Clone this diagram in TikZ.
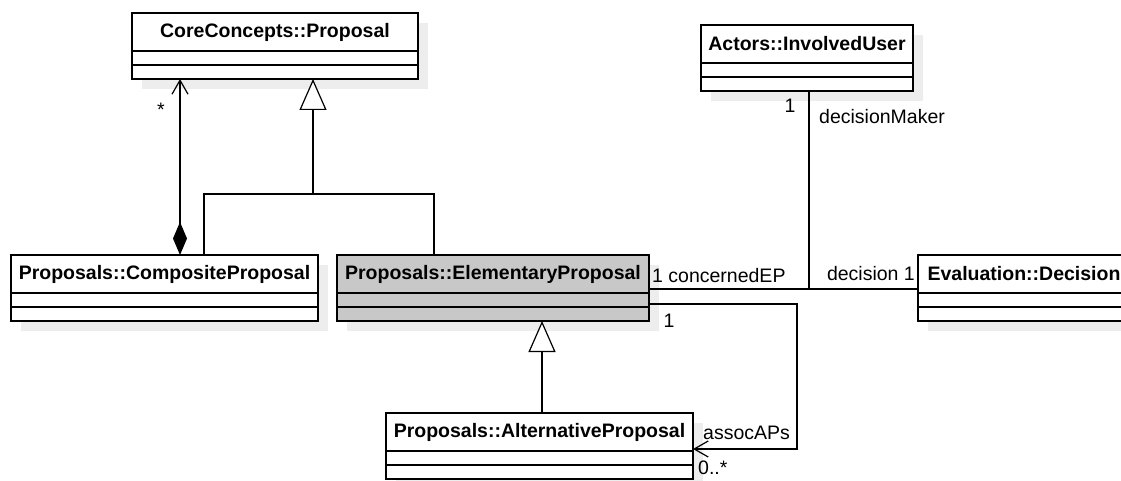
\documentclass[tikz,border=0pt]{standalone}
\usepackage{fontspec}
\setmainfont{Liberation Sans}
\usetikzlibrary{arrows.meta}
\definecolor{shadowc}{HTML}{EDEDED}
\definecolor{elemfill}{HTML}{C8C8C8}
\tikzset{
  clsbox/.style={draw=black, line width=1.5pt, inner sep=0pt, outer sep=0pt, anchor=north west},
  sepline/.style={draw=black, line width=1.5pt},
  hdr/.style={inner sep=0pt, font=\fontsize{19.5}{22}\selectfont\bfseries},
  lbl/.style={inner sep=0pt, font=\fontsize{19.5}{22}\selectfont},
  conn/.style={draw=black, line width=1.2pt},
  opentip/.style={-{Straight Barb[length=14pt,width=16pt,line width=1.2pt]}},
  gentip/.style={-{Triangle[open,length=31pt,width=27pt,fill=white,line width=1.2pt]}},
  comptip/.style={{Diamond[length=33pt,width=14pt]}-{Straight Barb[length=14pt,width=16pt,line width=1.2pt]}}
}
% #1 name, #2 x1, #3 y1, #4 x2, #5 fill, #6 text
\newcommand{\umlcls}[6]{%
  \fill[shadowc] (#2+10,#3+10) rectangle (#4+10,#3+76);
  \node[clsbox, fill=#5, minimum width={(#4-#2)*1pt}, minimum height=66pt] (#1) at (#2,#3) {};
  \draw[sepline] (#2,#3+38) -- (#4,#3+38);
  \draw[sepline] (#2,#3+52) -- (#4,#3+52);
  \node[hdr] (#1-t) at ({(#2+#4)/2},#3+19) {#6};
}
\begin{document}
\begin{tikzpicture}[x=1pt,y=-1pt]
\useasboundingbox (0,0) rectangle (1121,481);
\clip (0,0) rectangle (1121,481);
\fill[white] (0,0) rectangle (1121,481);

\umlcls{core}{132}{13}{418}{white}{CoreConcepts::Proposal}
\umlcls{comp}{11}{255}{318}{white}{Proposals::CompositeProposal}
\umlcls{elem}{337}{255}{649}{elemfill}{Proposals::ElementaryProposal}
\umlcls{dec}{918}{255}{1130}{white}{Evaluation::Decision}
\umlcls{usr}{701}{25}{913}{white}{Actors::InvolvedUser}
\umlcls{alt}{386}{413}{693}{white}{Proposals::AlternativeProposal}

% helper coordinates
\coordinate (xc) at (180,0);
\coordinate (g1) at (313,194);
\coordinate (gl) at (204,194);
\coordinate (gr) at (434,194);
\coordinate (g2) at (542,0);
\coordinate (j) at (809,289);
\coordinate (sa1) at (797,304);
\coordinate (sa2) at (797,449);

% composition
\draw[conn,comptip] (comp.north -| xc) -- (core.south -| xc);
% generalization to core
\draw[conn] (comp.north -| gl) -- (gl) -- (gr) -- (elem.north -| gr);
\draw[conn,gentip] (g1) -- (core.south -| g1);
% generalization alt -> elem
\draw[conn,gentip] (alt.north -| g2) -- (elem.south -| g2);
% association elem - decision, with user
\draw[conn] (elem.east |- j) -- (dec.west |- j);
\draw[conn] (usr.south -| j) -- (j);
% self association elem -> alt
\draw[conn,opentip] (elem.east |- sa1) -- (sa1) -- (sa2) -- (alt.east |- sa2);

% labels
\node[lbl] (l1) at (161,110) {*};
\node[lbl,anchor=center] (l2) at (790,106) {1};
\node[lbl,anchor=west] (l3) at (819,117) {decisionMaker};
\node[lbl,anchor=west] (l4) at (652,276) {1 concernedEP};
\node[lbl,anchor=east] (l5) at (915,274) {decision 1};
\node[lbl,anchor=center] (l6) at (669,321) {1};
\node[lbl,anchor=west] (l7) at (703,433) {assocAPs};
\node[lbl,anchor=west] (l8) at (698,468) {0..*};
\end{tikzpicture}
\end{document}
